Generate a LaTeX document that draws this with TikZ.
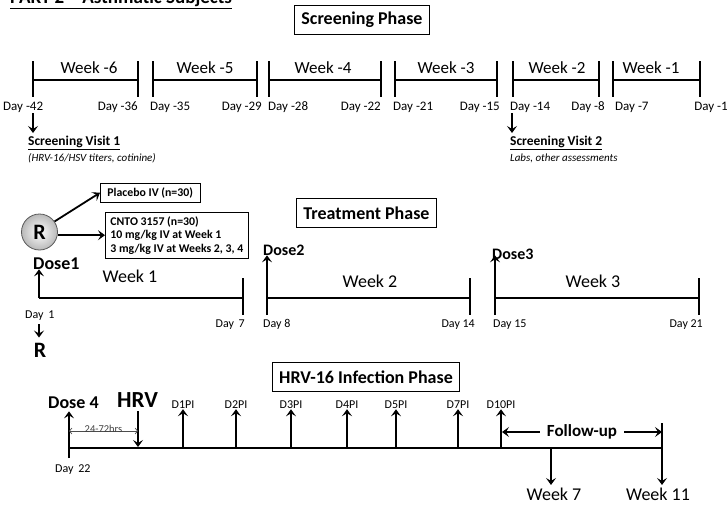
\documentclass[tikz,border=0pt]{standalone}
\usepackage{fontspec}
\setmainfont{Carlito}
\usetikzlibrary{arrows.meta}
\newcommand{\fsz}[1]{\fontsize{#1}{#1}\selectfont}
\tikzset{
  phasebox/.style={draw, line width=0.9pt, font=\fsz{18}\bfseries, inner xsep=7pt, minimum height=29pt},
  armbox/.style={draw, line width=0.9pt, font=\fontsize{11.8}{13.5}\selectfont\bfseries, align=left, inner xsep=5pt, inner ysep=4pt},
  wklbl/.style={font=\fsz{17}, anchor=base},
  daylbl/.style={font=\fsz{12}, anchor=base, inner sep=0pt},
  dosel/.style={font=\fsz{16}\bfseries, anchor=base west, inner sep=0pt},
  pilbl/.style={font=\fsz{12}, anchor=base, inner sep=1pt},
  tline/.style={line width=1.8pt},
  sline/.style={line width=1.3pt},
  arr/.style={line width=1.8pt, ->},
}
\begin{document}
\begin{tikzpicture}[x=1pt, y=-1pt, >={Stealth[length=7pt,width=10pt,inset=3pt]}]
\useasboundingbox (0,0) rectangle (727,506);

\node[anchor=base west, inner sep=0pt, font=\fsz{19}\bfseries] (title) at (10,4) {\underline{PART 2 – Asthmatic Subjects}};

% screening phase
\node[phasebox] (scr) at (362,20) {Screening Phase};
\foreach \i/\xa/\xb/\da/\db/\la/\lb/\wx in {1/33/138/-42/-36/3/138/89, 2/153/257/-35/-29/150/262/205,
    3/269/381/-28/-22/268/381/323, 4/395/497/-21/-15/393/500/446,
    5/513/599/-14/-8/510/605/557, 6/613/700/-7/-1/615/728/651} {
  \coordinate (s\i a) at (\xa,80);
  \coordinate (s\i b) at (\xb,80);
  \draw[sline] (s\i a) -- (s\i b);
  \draw[sline] (\xa,61) -- (\xa,97);
  \draw[sline] (\xb,61) -- (\xb,97);
  \node[wklbl] (sw\i) at (\wx,73) {Week -\the\numexpr 7-\i\relax};
  \node[daylbl, anchor=base west, font=\fsz{13}] (sd\i a) at (\la,110) {Day \da};
  \node[daylbl, anchor=base east, font=\fsz{13}] (sd\i b) at (\lb,110) {Day \db};
}
\coordinate (sv1a) at (33,113);
\node[anchor=north west, align=left, inner sep=0pt, font=\fontsize{13.5}{15.5}\selectfont] (sv1) at (28,136)
  {\bfseries\underline{Screening Visit 1}\\{\fsz{11}\itshape (HRV-16/HSV titers, cotinine)}};
\draw[arr] (sv1a) -- ([yshift=3pt]sv1a |- sv1.north);
\coordinate (sv2a) at (512,113);
\node[anchor=north west, align=left, inner sep=0pt, font=\fontsize{13.5}{15.5}\selectfont] (sv2) at (510,136)
  {\bfseries\underline{Screening Visit 2}\\{\fsz{11}\itshape Labs, other assessments}};
\draw[arr] (sv2a) -- ([yshift=3pt]sv2a |- sv2.north);

% treatment phase
\node[phasebox] (trt) at (366.5,213) {Treatment Phase};
\node[circle, draw=gray!70!black, line width=0.8pt, inner color=white, outer color=gray!55,
  minimum size=36pt, inner sep=0pt, font=\fsz{22}\bfseries] (rand) at (39.5,232) {R};
\node[armbox, anchor=north west, inner xsep=7pt] (plac) at (100,183) {Placebo IV (n=30)};
\node[armbox, anchor=north west] (cnto) at (105,212) {CNTO 3157 (n=30)\\10 mg/kg IV at Week 1\\3 mg/kg IV at Weeks 2, 3, 4};
\draw[arr] (rand.35) -- (plac.west);
\draw[arr] (rand.-10) -- (rand.-10 -| cnto.west);

\coordinate (w1a) at (39,298);  \coordinate (w1b) at (243,298);
\coordinate (w2a) at (267,298); \coordinate (w2b) at (470,298);
\coordinate (w3a) at (495,298); \coordinate (w3b) at (699,298);
\draw[tline] (w1a) -- (w1b);
\draw[tline] (w2a) -- (w2b);
\draw[tline] (w3a) -- (w3b);
\draw[tline] (243,278) -- (243,315);
\draw[tline] (470,278) -- (470,315);
\draw[tline] (699,278) -- (699,315);
\draw[tline] (267,315) -- (w2a);
\draw[tline] (495,315) -- (w3a);
\node[dosel, font=\fsz{18}\bfseries] (dose1) at (33,269) {Dose1};
\node[dosel] (dose2) at (263,255) {Dose2};
\node[dosel] (dose3) at (492,259) {Dose3};
\draw[arr] (w1a) -- (w1a |- dose1.south);
\draw[arr] (w2a) -- (w2a |- dose2.south);
\draw[arr] (w3a) -- ([yshift=4pt]w3a |- dose3.south);
\node[wklbl, font=\fsz{18}] (tw1) at (130,282) {Week 1};
\node[wklbl, font=\fsz{18}] (tw2) at (370,287) {Week 2};
\node[wklbl, font=\fsz{18}] (tw3) at (593,287) {Week 3};
\node[daylbl, anchor=base west] (td1) at (25,318) {Day\, 1};
\node[daylbl, anchor=base east] (td7) at (245,327) {Day\, 7};
\node[daylbl, anchor=base west] (td8) at (263,327) {Day 8};
\node[daylbl, anchor=base east] (td14) at (475,327) {Day 14};
\node[daylbl, anchor=base west] (td15) at (493,327) {Day 15};
\node[daylbl, anchor=base east] (td21) at (703,327) {Day 21};
\coordinate (rtop) at (39,324);
\node[anchor=base, inner sep=0pt, font=\fsz{22}\bfseries] (rlbl) at (40,357) {R};
\draw[arr] (rtop) -- ([yshift=5pt]rtop |- rlbl.north);

% infection phase
\node[phasebox] (inf) at (366,377) {HRV-16 Infection Phase};
\coordinate (i0) at (69,448); \coordinate (iend) at (662,448);
\draw[tline] (i0) -- (iend);
\draw[tline] (69,458) -- (i0);
\node[dosel, font=\fsz{18}\bfseries] (dose4) at (48,408) {Dose 4};
\draw[arr] (i0) -- ([yshift=-3pt]i0 |- dose4.south);
\node[anchor=base west, inner sep=0pt, font=\fsz{23}\bfseries] (hrv) at (117,407) {HRV};
\coordinate (hrvx) at (138,447);
\draw[arr] ([yshift=-4pt]hrvx |- hrv.south) -- (hrvx);
\coordinate (ga) at (69,431); \coordinate (gb) at (138,431);
\draw[gray!60!black, line width=0.7pt, {Straight Barb[length=2.5pt,width=6pt]}-{Straight Barb[length=2.5pt,width=6pt]}] (ga) -- (gb)
  node[midway, anchor=base, inner sep=0pt, yshift=-1pt, font=\fsz{10.5}, text=gray!50!black] (gap) {24-72hrs};
\foreach \x/\t [count=\k] in {183/D1PI, 236/D2PI, 291/D3PI, 347/D4PI, 396/D5PI, 458/D7PI, 501/D10PI} {
  \coordinate (p\k) at (\x,448);
  \node[pilbl] (pl\k) at (\x,408) {\t};
  \draw[arr] (p\k) -- (pl\k.south);
}
\node[daylbl, anchor=base west] (id22) at (55,472) {Day\, 22};
\coordinate (fu1) at (502,432); \coordinate (fu2) at (662,432);
\draw[line width=1.5pt, <->] (fu1) -- (fu2)
  node[midway, fill=white, inner xsep=7pt, inner ysep=1pt, font=\fsz{17}\bfseries] (fup) {Follow-up};
\draw[tline] (662,423) -- (iend);
\coordinate (w7) at (551,448);
\node[wklbl, font=\fsz{18}] (wk7) at (554,500) {Week 7};
\node[wklbl, font=\fsz{18}] (wk11) at (658,500) {Week 11};
\draw[arr] (w7) -- ([yshift=-1pt]w7 |- wk7.north);
\draw[arr] (iend) -- ([yshift=-1pt]iend |- wk11.north);
\end{tikzpicture}
\end{document}
